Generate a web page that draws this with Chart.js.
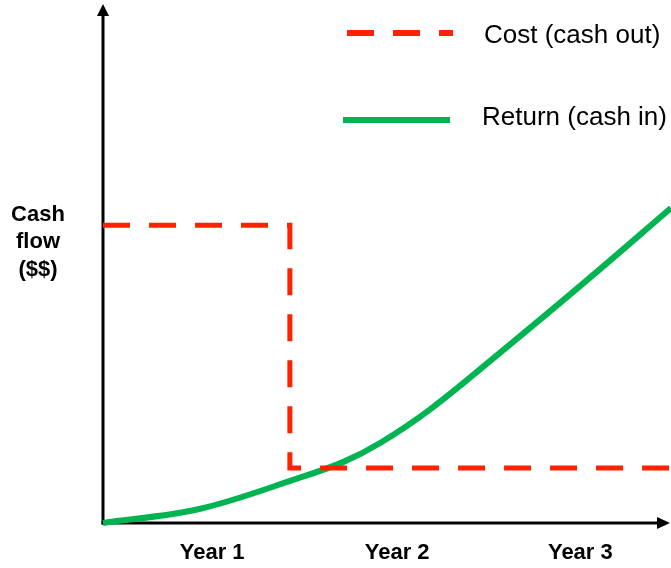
<!DOCTYPE html>
<html>
<head>
<meta charset="utf-8">
<script src="https://cdn.jsdelivr.net/npm/chart.js@4.4.1/dist/chart.umd.min.js"></script>
<style>
  html, body { margin: 0; padding: 0; background: #ffffff; }
  #wrap { width: 671px; height: 568px; }
</style>
</head>
<body>
<div id="wrap"><canvas id="cashChart" width="671" height="568"></canvas></div>
<script>
// Values (x in years, y in arbitrary cash units 0-100)
var yearLabels = ['Year 1', 'Year 2', 'Year 3'];
var yearTickPos = [0.59, 1.59, 2.58];

var costX = [0, 1.01, 3.07];
var costY = [57.5, 10.6, 10.6];

var returnX = [0, 0.52, 1.06, 1.3, 1.5, 1.77, 2.15, 2.61, 3.07];
var returnY = [0, 2.7, 8.7, 11.8, 15.5, 22.0, 33.0, 46.7, 60.8];

var legendLabels = ['Cost (cash out)', 'Return (cash in)'];
var yAxisTitle = ['Cash', 'flow', '($$)'];

var RED = '#ff2200';
var GREEN = '#00b451';

function toPoints(xs, ys) {
    return xs.map(function(x, i) { return { x: x, y: ys[i] }; });
}

// Draws the arrowed axes, year labels, axis title and the legend
var decorPlugin = {
    id: 'decor',
    beforeDatasetsDraw: function(chart) {
        var ctx = chart.ctx;
        var area = chart.chartArea;
        var ox = area.left, oy = area.bottom;
        ctx.save();
        ctx.strokeStyle = '#000';
        ctx.fillStyle = '#000';
        ctx.lineWidth = 3;
        // y axis
        ctx.beginPath();
        ctx.moveTo(ox, oy + 1.5);
        ctx.lineTo(ox, 14);
        ctx.stroke();
        ctx.beginPath();
        ctx.moveTo(ox, 4);
        ctx.lineTo(ox - 6, 16);
        ctx.lineTo(ox + 6, 16);
        ctx.closePath();
        ctx.fill();
        // x axis
        ctx.beginPath();
        ctx.moveTo(ox - 1.5, oy);
        ctx.lineTo(660, oy);
        ctx.stroke();
        ctx.beginPath();
        ctx.moveTo(670, oy);
        ctx.lineTo(657, oy - 6);
        ctx.lineTo(657, oy + 6);
        ctx.closePath();
        ctx.fill();
        ctx.restore();
    },
    afterDraw: function(chart) {
        var ctx = chart.ctx;
        var xs = chart.scales.x;
        ctx.save();
        ctx.fillStyle = '#000';
        ctx.textAlign = 'center';
        ctx.textBaseline = 'alphabetic';
        ctx.font = 'bold 22px "Liberation Sans", Arial, sans-serif';
        yearLabels.forEach(function(lbl, i) {
            ctx.fillText(lbl, xs.getPixelForValue(yearTickPos[i]), 559);
        });
        var titleY = [221, 248, 276];
        yAxisTitle.forEach(function(t, i) {
            ctx.fillText(t, 38, titleY[i]);
        });

        // legend
        ctx.lineWidth = 6;
        ctx.strokeStyle = RED;
        ctx.setLineDash([27, 19]);
        ctx.beginPath();
        ctx.moveTo(347, 33);
        ctx.lineTo(453, 33);
        ctx.stroke();
        ctx.setLineDash([]);
        ctx.strokeStyle = GREEN;
        ctx.beginPath();
        ctx.moveTo(343, 120);
        ctx.lineTo(450, 120);
        ctx.stroke();

        ctx.textAlign = 'left';
        ctx.font = '26px "Liberation Sans", Arial, sans-serif';
        ctx.fillText(legendLabels[0], 484, 43);
        ctx.fillText(legendLabels[1], 482, 125);
        ctx.restore();
    }
};

var ctx = document.getElementById('cashChart').getContext('2d');
new Chart(ctx, {
    type: 'line',
    data: {
        datasets: [
            {
                label: legendLabels[0],
                data: toPoints(costX, costY),
                borderColor: RED,
                borderWidth: 5,
                borderDash: [27, 19],
                stepped: 'before',
                pointRadius: 0,
                fill: false,
                clip: false
            },
            {
                label: legendLabels[1],
                data: toPoints(returnX, returnY),
                borderColor: GREEN,
                borderWidth: 6,
                tension: 0.35,
                pointRadius: 0,
                fill: false,
                clip: false
            }
        ]
    },
    options: {
        responsive: false,
        animation: false,
        layout: { padding: { left: 103, right: 0, top: 5, bottom: 45 } },
        scales: {
            x: { type: 'linear', min: 0, max: 3.07, display: false },
            y: { min: 0, max: 100, display: false }
        },
        plugins: {
            legend: { display: false },
            tooltip: { enabled: false }
        }
    },
    plugins: [decorPlugin]
});
</script>
</body>
</html>
